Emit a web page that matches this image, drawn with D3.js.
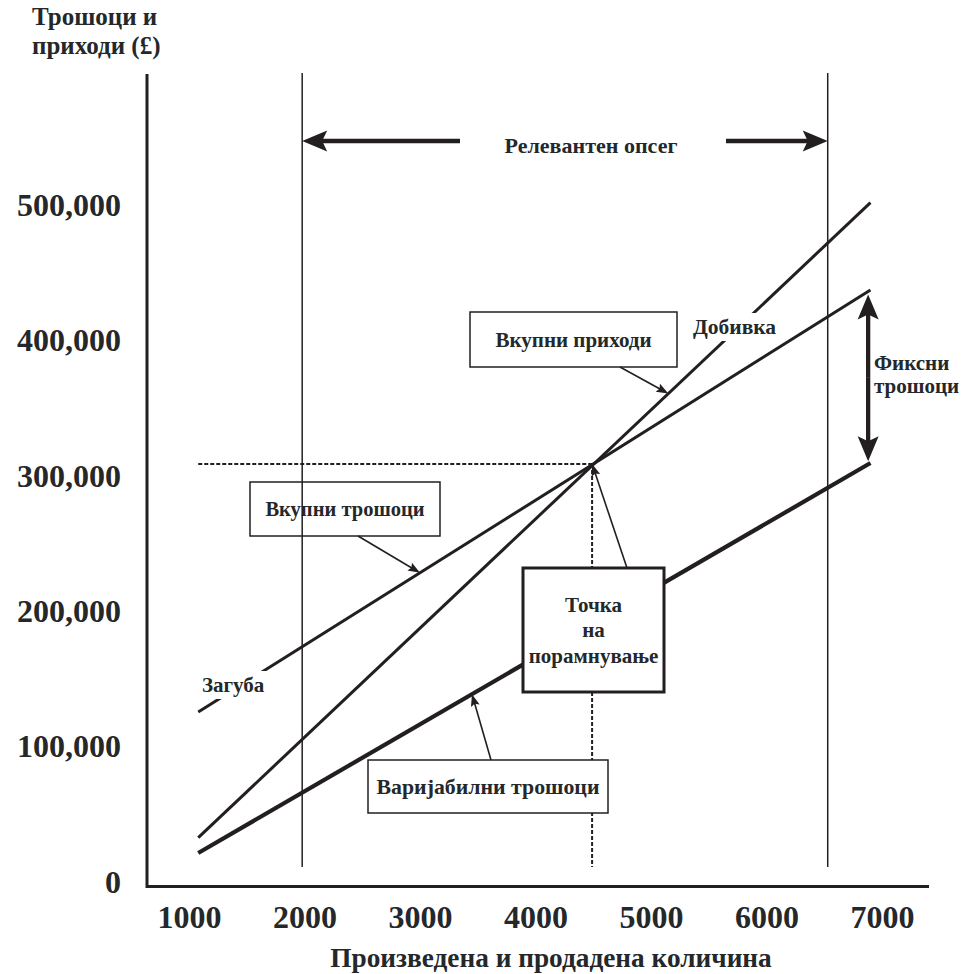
<!DOCTYPE html>
<html>
<head>
<meta charset="utf-8">
<script src="https://cdn.jsdelivr.net/npm/d3@7"></script>
<style>
  body { margin: 0; background: #fff; }
  text { font-family: "Liberation Serif", "Times New Roman", serif; font-weight: bold; fill: #24282b; }
</style>
</head>
<body>
<svg id="chart" width="968" height="974"></svg>
<script>
// Quantity produced and sold (units) and amounts in pounds
const quantityTicks = [1000, 2000, 3000, 4000, 5000, 6000, 7000];
const amountTicks = [0, 100000, 200000, 300000, 400000, 500000];

// Each series: [units, £]
const totalRevenue = [[1080, 32000], [6900, 501000]];
const totalCosts = [[1080, 124800], [6900, 436500]];
const variableCosts = [[1080, 20700], [6900, 308700]];
const breakEven = [4490, 308000];
const relevantRange = [1980, 6530];

const yTitle = ["Трошоци и", "приходи (£)"];
const xTitle = "Произведена и продадена количина";
const rangeLabel = "Релевантен опсег";
const profitLabel = "Добивка";
const lossLabel = "Загуба";
const fixedLabel = ["Фиксни", "трошоци"];

const ink = "#231f20";
const svg = d3.select("#chart");

const x = d3.scaleLinear().domain([1000, 7000]).range([189, 882]);
const y = d3.scaleLinear().domain([0, 500000]).range([881, 204]);

const axisX = 147, axisY = 886.5, axisTop = 74, axisRight = 929;
const guideTop = 73, guideBottom = 867;

// value of a straight series at a given quantity
function valueAt(series, u) {
  const [a, b] = series;
  return a[1] + (b[1] - a[1]) * (u - a[0]) / (b[0] - a[0]);
}

// filled arrow head with its tip at (tx, ty), pointing along angle
function arrowHead(g, tx, ty, angle, len, half, notch) {
  const c = Math.cos(angle), s = Math.sin(angle);
  const pt = (dx, dy) => [tx + dx * c - dy * s, ty + dx * s + dy * c];
  const pts = [pt(0, 0), pt(-len, -half), pt(-len + notch, 0), pt(-len, half)];
  g.append("path")
    .attr("d", "M" + pts.map(p => p.join(",")).join("L") + "Z")
    .attr("fill", ink);
}

// arrow from (x1,y1) to (x2,y2)
function arrow(g, x1, y1, x2, y2, width, len, half, notch) {
  const ang = Math.atan2(y2 - y1, x2 - x1);
  const back = len - notch - 1;
  g.append("line")
    .attr("x1", x1).attr("y1", y1)
    .attr("x2", x2 - back * Math.cos(ang)).attr("y2", y2 - back * Math.sin(ang))
    .attr("stroke", ink).attr("stroke-width", width);
  arrowHead(g, x2, y2, ang, len, half, notch);
}

// ---- axes ----
const yAxis = d3.axisLeft(y).tickValues(amountTicks).tickSize(0).tickPadding(26)
  .tickFormat(d3.format(","));
svg.append("g").attr("transform", `translate(${axisX},0)`).call(yAxis)
  .call(g => g.select(".domain").remove())
  .selectAll("text")
  .attr("font-size", 32).attr("dy", "0.35em")
  .style("font-family", '"Liberation Serif", serif');

const xAxis = d3.axisBottom(x).tickValues(quantityTicks).tickSize(0).tickPadding(19)
  .tickFormat(d3.format("d"));
svg.append("g").attr("transform", `translate(0,${axisY})`).call(xAxis)
  .call(g => g.select(".domain").remove())
  .selectAll("text")
  .attr("font-size", 32)
  .style("font-family", '"Liberation Serif", serif');

svg.append("path")
  .attr("d", `M${axisX},${axisTop}V${axisY}H${axisRight}`)
  .attr("fill", "none").attr("stroke", ink).attr("stroke-width", 3);

svg.append("g").selectAll("text").data(yTitle).join("text")
  .attr("x", 32).attr("y", (d, i) => 25 + i * 29)
  .attr("font-size", 25).text(d => d);

svg.append("text")
  .attr("x", 551).attr("y", 967).attr("text-anchor", "middle")
  .attr("font-size", 27.3).text(xTitle);

// ---- break-even guides ----
const dash = svg.append("g").attr("stroke", ink).attr("stroke-width", 2)
  .attr("stroke-dasharray", "4,2").attr("fill", "none");
dash.append("line")
  .attr("x1", x(totalRevenue[0][0])).attr("x2", x(breakEven[0]))
  .attr("y1", y(breakEven[1])).attr("y2", y(breakEven[1]));
dash.append("line")
  .attr("x1", x(breakEven[0])).attr("x2", x(breakEven[0]))
  .attr("y1", y(breakEven[1])).attr("y2", guideBottom);

// ---- series ----
const line = d3.line().x(d => x(d[0])).y(d => y(d[1]));
const seriesList = [
  { data: totalRevenue, width: 3 },
  { data: totalCosts, width: 3 },
  { data: variableCosts, width: 4.2 }
];
svg.append("g").selectAll("path").data(seriesList).join("path")
  .attr("d", d => line(d.data))
  .attr("fill", "none").attr("stroke", ink)
  .attr("stroke-width", d => d.width);

// labels sitting on the lines, with a white backing
function haloLabel(txt, lx, ly, size) {
  const g = svg.append("g");
  const t = g.append("text").attr("x", lx).attr("y", ly)
    .attr("font-size", size).text(txt);
  const bb = t.node().getBBox();
  g.insert("rect", "text")
    .attr("x", bb.x - 3).attr("y", bb.y - 2)
    .attr("width", bb.width + 6).attr("height", bb.height + 4)
    .attr("fill", "#fff");
}
haloLabel(profitLabel, 693, 334, 21.5);
haloLabel(lossLabel, 202, 692, 21);

// ---- callout boxes ----
const callouts = [
  { lines: ["Вкупни приходи"], box: [470, 312, 677, 367], from: [620, 367],
    target: [5150, valueAt(totalRevenue, 5150)], border: 1.5, size: 21 },
  { lines: ["Вкупни трошоци"], box: [250, 482, 440, 536], from: [358, 536],
    target: [3000, valueAt(totalCosts, 3000)], border: 1.5, open: true, size: 20.5 },
  { lines: ["Точка", "на", "порамнување"], box: [523, 568, 664, 692], from: [627, 568],
    target: breakEven, border: 3, size: 21 },
  { lines: ["Варијабилни трошоци"], box: [368, 760, 608, 813], from: [491, 760],
    target: [3450, valueAt(variableCosts, 3450)], border: 1.5, size: 21.8 }
];
callouts.forEach(c => {
  const g = svg.append("g");
  const [x0, y0, x1, y1] = c.box;
  g.append("rect")
    .attr("x", x0).attr("y", y0).attr("width", x1 - x0).attr("height", y1 - y0)
    .attr("fill", c.open ? "none" : "#fff").attr("stroke", ink)
    .attr("stroke-width", c.border);
  const cx = (x0 + x1) / 2, cy = (y0 + y1) / 2, lh = 25.5;
  g.selectAll("text").data(c.lines).join("text")
    .attr("x", cx)
    .attr("y", (d, i) => cy + (i - (c.lines.length - 1) / 2) * lh)
    .attr("dy", "0.35em").attr("text-anchor", "middle")
    .attr("font-size", c.size).text(d => d);
  arrow(g, c.from[0], c.from[1], x(c.target[0]), y(c.target[1]), 1.6, 12, 4.5, 2);
});

// ---- relevant range ----
const rg = svg.append("g");
rg.selectAll("line").data(relevantRange).join("line")
  .attr("x1", d => x(d)).attr("x2", d => x(d))
  .attr("y1", guideTop).attr("y2", guideBottom)
  .attr("stroke", ink).attr("stroke-width", 1.5);
const rangeY = 141;
arrow(rg, 460, rangeY, x(relevantRange[0]), rangeY, 4.3, 25, 10.5, 5);
arrow(rg, 726, rangeY, x(relevantRange[1]), rangeY, 4.3, 25, 10.5, 5);
rg.append("text")
  .attr("x", 591).attr("y", 153).attr("text-anchor", "middle")
  .attr("font-size", 22).text(rangeLabel);

// ---- fixed costs span ----
const fixedU = 6880;
const fTop = y(valueAt(totalCosts, fixedU)) + 3;
const fBot = y(valueAt(variableCosts, fixedU)) - 3;
const fMid = (fTop + fBot) / 2;
const fg = svg.append("g");
arrow(fg, x(fixedU), fMid, x(fixedU), fTop, 4.3, 25, 10.5, 5);
arrow(fg, x(fixedU), fMid, x(fixedU), fBot, 4.3, 25, 10.5, 5);
fg.selectAll("text").data(fixedLabel).join("text")
  .attr("x", 874).attr("y", (d, i) => 370 + i * 23)
  .attr("font-size", 21).text(d => d);
</script>
</body>
</html>
